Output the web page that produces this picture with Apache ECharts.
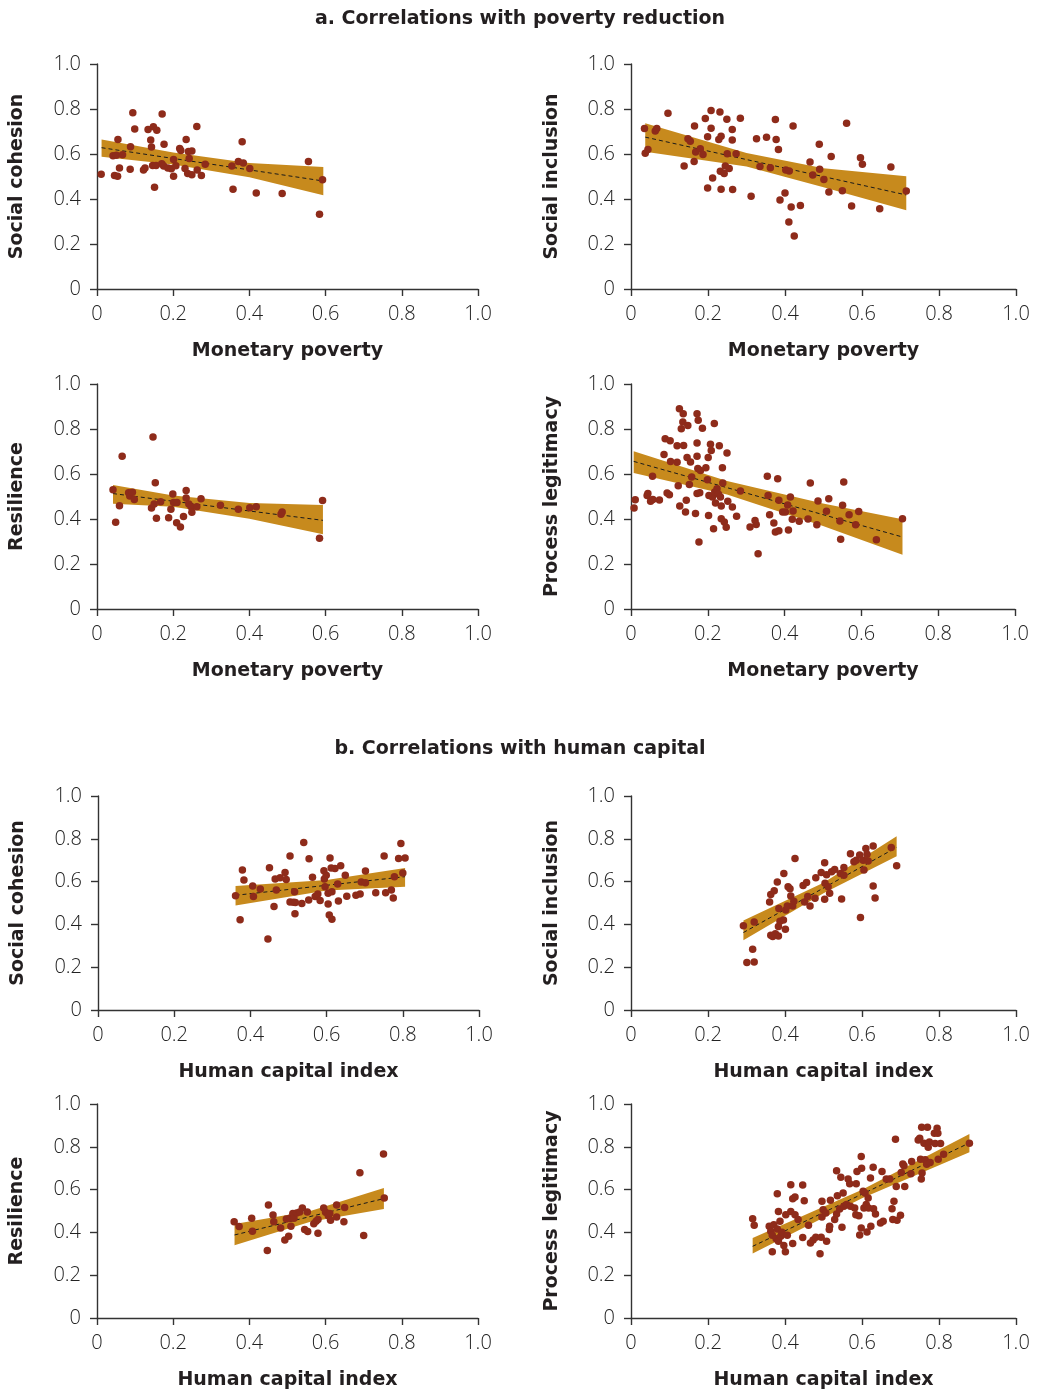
<!DOCTYPE html>
<html>
<head>
    <meta charset="utf-8">
    <title>Correlations</title>
    <script src="https://cdn.jsdelivr.net/npm/echarts@6/dist/echarts.min.js"></script>
    <style>
        body { margin: 0; background: #fff; }
    </style>
</head>
<body>
    <div id="main" style="width: 1040px;height:1391px;"></div>
    <script type="text/javascript">
        // 数据：每个面板的散点 [x, y]
        var povCohesion = [[0.011,0.51],[0.094,0.783],[0.099,0.711],[0.171,0.778],[0.134,0.709],[0.148,0.721],[0.157,0.706],[0.262,0.722],
            [0.055,0.665],[0.141,0.662],[0.176,0.643],[0.234,0.665],[0.381,0.654],[0.088,0.632],[0.143,0.631],[0.217,0.625],[0.22,0.616],
            [0.24,0.611],[0.249,0.613],[0.042,0.592],[0.051,0.595],[0.067,0.597],[0.242,0.58],[0.201,0.576],[0.284,0.555],[0.354,0.547],
            [0.371,0.567],[0.384,0.56],[0.401,0.536],[0.555,0.567],[0.059,0.538],[0.087,0.532],[0.122,0.529],[0.126,0.538],[0.146,0.549],
            [0.155,0.549],[0.17,0.557],[0.175,0.547],[0.186,0.538],[0.195,0.535],[0.207,0.548],[0.231,0.536],[0.238,0.513],[0.249,0.508],
            [0.263,0.529],[0.274,0.505],[0.201,0.501],[0.046,0.505],[0.054,0.501],[0.151,0.452],[0.357,0.443],[0.418,0.427],[0.486,0.424],
            [0.592,0.486],[0.584,0.332]];
        var povInclusion = [[0.035,0.713],[0.037,0.603],[0.044,0.62],[0.063,0.702],[0.067,0.713],[0.096,0.781],[0.138,0.547],[0.148,0.668],
            [0.154,0.657],[0.165,0.724],[0.164,0.567],[0.168,0.609],[0.18,0.623],[0.187,0.598],[0.193,0.758],[0.199,0.677],[0.199,0.449],
            [0.208,0.793],[0.208,0.715],[0.212,0.493],[0.231,0.787],[0.228,0.665],[0.234,0.679],[0.232,0.523],[0.234,0.443],[0.242,0.513],
            [0.245,0.547],[0.249,0.755],[0.25,0.601],[0.255,0.536],[0.263,0.709],[0.263,0.662],[0.264,0.442],[0.273,0.601],[0.284,0.759],
            [0.312,0.412],[0.326,0.668],[0.335,0.544],[0.352,0.675],[0.362,0.539],[0.375,0.753],[0.377,0.665],[0.383,0.62],[0.387,0.396],
            [0.4,0.427],[0.402,0.529],[0.411,0.524],[0.41,0.298],[0.416,0.365],[0.421,0.725],[0.424,0.236],[0.44,0.371],[0.465,0.564],
            [0.472,0.507],[0.489,0.643],[0.49,0.532],[0.501,0.487],[0.514,0.431],[0.52,0.589],[0.549,0.437],[0.56,0.737],[0.573,0.369],
            [0.596,0.583],[0.601,0.554],[0.646,0.357],[0.675,0.542],[0.715,0.436]];
        var povResilience = [[0.042,0.53],[0.049,0.386],[0.059,0.459],[0.066,0.679],[0.083,0.517],[0.086,0.502],[0.093,0.519],[0.098,0.487],
            [0.143,0.449],[0.147,0.765],[0.153,0.561],[0.15,0.467],[0.156,0.403],[0.167,0.477],[0.188,0.406],[0.194,0.443],[0.199,0.511],
            [0.201,0.473],[0.21,0.473],[0.209,0.383],[0.219,0.365],[0.227,0.411],[0.234,0.527],[0.234,0.493],[0.241,0.467],[0.247,0.455],
            [0.249,0.43],[0.262,0.455],[0.273,0.49],[0.324,0.461],[0.371,0.443],[0.401,0.45],[0.418,0.455],[0.483,0.421],[0.486,0.431],
            [0.584,0.315],[0.592,0.482]];
        var povLegitimacy = [[0.008,0.449],[0.011,0.486],[0.042,0.505],[0.044,0.513],[0.051,0.479],[0.057,0.487],[0.056,0.59],[0.074,0.484],
            [0.086,0.687],[0.089,0.757],[0.094,0.516],[0.1,0.508],[0.102,0.748],[0.103,0.656],[0.12,0.726],[0.12,0.652],[0.123,0.548],
            [0.126,0.89],[0.127,0.458],[0.131,0.801],[0.136,0.868],[0.135,0.831],[0.137,0.727],[0.142,0.431],[0.144,0.483],[0.146,0.673],
            [0.148,0.816],[0.152,0.553],[0.155,0.653],[0.158,0.587],[0.168,0.424],[0.172,0.868],[0.172,0.738],[0.172,0.679],[0.172,0.513],
            [0.175,0.839],[0.174,0.624],[0.177,0.298],[0.179,0.517],[0.181,0.616],[0.186,0.803],[0.195,0.628],[0.199,0.575],[0.201,0.673],
            [0.202,0.416],[0.203,0.505],[0.207,0.732],[0.209,0.705],[0.212,0.498],[0.215,0.357],[0.217,0.824],[0.218,0.52],[0.22,0.471],
            [0.224,0.535],[0.228,0.51],[0.23,0.726],[0.233,0.498],[0.235,0.458],[0.235,0.401],[0.238,0.628],[0.239,0.56],[0.243,0.387],
            [0.248,0.363],[0.25,0.693],[0.252,0.479],[0.264,0.453],[0.275,0.412],[0.285,0.524],[0.31,0.364],[0.323,0.393],[0.326,0.376],
            [0.331,0.246],[0.355,0.59],[0.357,0.504],[0.361,0.419],[0.372,0.382],[0.376,0.342],[0.382,0.579],[0.385,0.483],[0.385,0.348],
            [0.395,0.431],[0.402,0.431],[0.408,0.462],[0.41,0.351],[0.415,0.498],[0.42,0.399],[0.422,0.436],[0.438,0.39],[0.461,0.4],
            [0.467,0.56],[0.484,0.375],[0.487,0.48],[0.509,0.434],[0.515,0.49],[0.544,0.391],[0.546,0.31],[0.551,0.461],[0.554,0.564],
            [0.568,0.419],[0.585,0.375],[0.593,0.433],[0.639,0.308],[0.707,0.401]];
        var hcCohesion = [[0.361,0.534],[0.373,0.422],[0.379,0.654],[0.383,0.607],[0.406,0.579],[0.408,0.53],[0.426,0.565],[0.45,0.665],
            [0.446,0.332],[0.462,0.484],[0.465,0.612],[0.468,0.561],[0.478,0.618],[0.491,0.643],[0.494,0.61],[0.504,0.72],[0.504,0.505],
            [0.513,0.503],[0.516,0.553],[0.517,0.45],[0.518,0.502],[0.535,0.498],[0.54,0.783],[0.553,0.514],[0.554,0.707],[0.563,0.62],
            [0.57,0.53],[0.577,0.542],[0.583,0.512],[0.593,0.651],[0.596,0.576],[0.594,0.612],[0.599,0.63],[0.604,0.545],[0.604,0.495],
            [0.607,0.444],[0.609,0.71],[0.614,0.424],[0.614,0.553],[0.612,0.663],[0.622,0.661],[0.629,0.589],[0.631,0.509],[0.637,0.674],
            [0.649,0.63],[0.653,0.531],[0.677,0.536],[0.688,0.542],[0.691,0.598],[0.702,0.595],[0.702,0.649],[0.729,0.548],[0.751,0.72],
            [0.755,0.548],[0.77,0.561],[0.775,0.523],[0.778,0.623],[0.789,0.708],[0.795,0.778],[0.8,0.64],[0.806,0.71]];
        var hcInclusion = [[0.292,0.394],[0.301,0.222],[0.316,0.284],[0.32,0.224],[0.32,0.411],[0.36,0.505],[0.363,0.54],[0.363,0.349],
            [0.368,0.343],[0.372,0.557],[0.375,0.356],[0.38,0.598],[0.383,0.39],[0.384,0.474],[0.383,0.346],[0.387,0.415],[0.396,0.421],
            [0.397,0.638],[0.401,0.377],[0.402,0.467],[0.406,0.486],[0.408,0.576],[0.413,0.567],[0.415,0.533],[0.42,0.486],[0.423,0.508],
            [0.426,0.708],[0.447,0.582],[0.451,0.505],[0.456,0.596],[0.459,0.53],[0.465,0.486],[0.478,0.522],[0.48,0.618],[0.494,0.643],
            [0.503,0.688],[0.503,0.517],[0.504,0.592],[0.508,0.632],[0.512,0.576],[0.516,0.545],[0.521,0.646],[0.529,0.657],[0.547,0.519],
            [0.544,0.638],[0.553,0.63],[0.553,0.666],[0.57,0.73],[0.579,0.693],[0.585,0.7],[0.594,0.724],[0.596,0.432],[0.603,0.7],
            [0.605,0.654],[0.61,0.755],[0.613,0.728],[0.616,0.696],[0.629,0.766],[0.629,0.579],[0.634,0.523],[0.676,0.759],[0.69,0.674]];
        var hcResilience = [[0.36,0.45],[0.373,0.427],[0.406,0.466],[0.408,0.405],[0.447,0.315],[0.45,0.528],[0.462,0.481],[0.464,0.45],
            [0.482,0.421],[0.493,0.365],[0.497,0.463],[0.503,0.382],[0.506,0.466],[0.509,0.429],[0.514,0.488],[0.517,0.466],[0.524,0.491],
            [0.532,0.495],[0.539,0.514],[0.545,0.413],[0.552,0.495],[0.553,0.404],[0.569,0.441],[0.575,0.452],[0.58,0.46],[0.58,0.396],
            [0.595,0.514],[0.6,0.494],[0.607,0.478],[0.611,0.488],[0.613,0.457],[0.629,0.528],[0.629,0.472],[0.648,0.45],[0.65,0.516],
            [0.69,0.679],[0.7,0.385],[0.752,0.766],[0.754,0.561]];
        var hcLegitimacy = [[0.316,0.464],[0.32,0.433],[0.359,0.429],[0.363,0.405],[0.367,0.387],[0.367,0.309],[0.371,0.436],[0.377,0.37],
            [0.38,0.581],[0.38,0.416],[0.383,0.498],[0.383,0.359],[0.387,0.452],[0.389,0.382],[0.392,0.401],[0.397,0.339],[0.401,0.309],
            [0.402,0.483],[0.406,0.387],[0.415,0.623],[0.415,0.498],[0.42,0.348],[0.42,0.557],[0.426,0.565],[0.426,0.483],[0.434,0.46],
            [0.446,0.621],[0.45,0.548],[0.461,0.433],[0.446,0.376],[0.466,0.351],[0.473,0.365],[0.48,0.377],[0.491,0.3],[0.494,0.377],
            [0.496,0.545],[0.496,0.472],[0.499,0.506],[0.506,0.491],[0.508,0.359],[0.515,0.413],[0.516,0.429],[0.518,0.55],[0.529,0.46],
            [0.534,0.688],[0.534,0.486],[0.536,0.571],[0.542,0.509],[0.545,0.658],[0.548,0.424],[0.551,0.584],[0.553,0.522],[0.56,0.53],
            [0.564,0.649],[0.568,0.627],[0.57,0.522],[0.581,0.514],[0.584,0.483],[0.585,0.627],[0.587,0.685],[0.592,0.478],[0.594,0.388],
            [0.598,0.755],[0.598,0.421],[0.599,0.7],[0.603,0.592],[0.605,0.514],[0.608,0.584],[0.611,0.53],[0.613,0.402],[0.616,0.561],
            [0.617,0.514],[0.622,0.654],[0.623,0.429],[0.629,0.705],[0.63,0.511],[0.635,0.486],[0.648,0.444],[0.652,0.685],[0.655,0.452],
            [0.663,0.649],[0.672,0.649],[0.678,0.511],[0.683,0.545],[0.68,0.46],[0.687,0.835],[0.689,0.615],[0.691,0.457],[0.7,0.48],
            [0.702,0.68],[0.706,0.72],[0.709,0.711],[0.711,0.615],[0.727,0.674],[0.729,0.731],[0.746,0.832],[0.75,0.84],[0.752,0.742],
            [0.755,0.891],[0.754,0.649],[0.756,0.677],[0.761,0.817],[0.764,0.739],[0.768,0.719],[0.77,0.891],[0.772,0.798],[0.775,0.823],
            [0.777,0.727],[0.788,0.863],[0.79,0.815],[0.795,0.887],[0.797,0.863],[0.798,0.742],[0.804,0.815],[0.812,0.765],[0.879,0.817]];

        // 置信区间：x、下界、上界
        var bandX = [[0.012,0.2,0.4,0.594],[0.037,0.3,0.5,0.715],[0.042,0.2,0.4,0.593],[0.007,0.25,0.5,0.707],
            [0.361,0.6,0.806],[0.292,0.5,0.69],[0.361,0.56,0.753],[0.316,0.6,0.879]];
        var bandLow = [[0.588,0.553,0.497,0.417],[0.61,0.545,0.452,0.35],[0.468,0.454,0.401,0.332],[0.604,0.509,0.369,0.241],
            [0.488,0.558,0.576],[0.326,0.545,0.719],[0.34,0.45,0.509],[0.301,0.559,0.775]];
        var bandHigh = [[0.665,0.607,0.56,0.542],[0.737,0.605,0.537,0.501],[0.551,0.504,0.471,0.462],[0.701,0.569,0.469,0.399],
            [0.579,0.608,0.663],[0.418,0.595,0.812],[0.439,0.5,0.607],[0.374,0.599,0.86]];
        // 拟合线两端
        var fitLines = [[[0.012,0.628],[0.594,0.48]],[[0.037,0.675],[0.715,0.418]],[[0.042,0.513],[0.593,0.394]],[[0.007,0.656],[0.707,0.32]],
            [[0.361,0.536],[0.806,0.623]],[[0.292,0.362],[0.69,0.76]],[[0.361,0.388],[0.753,0.558]],[[0.316,0.335],[0.879,0.818]]];

        var panelData = [povCohesion, povInclusion, povResilience, povLegitimacy, hcCohesion, hcInclusion, hcResilience, hcLegitimacy];
        var yNames = ['Social cohesion','Social inclusion','Resilience','Process legitimacy','Social cohesion','Social inclusion','Resilience','Process legitimacy'];
        var xNames = ['Monetary poverty','Monetary poverty','Monetary poverty','Monetary poverty','Human capital index','Human capital index','Human capital index','Human capital index'];
        var titles = ['a. Correlations with poverty reduction', 'b. Correlations with human capital'];

        // 布局
        var grids = [
            {left: 97, top: 64, width: 381, height: 225},
            {left: 631, top: 64, width: 385, height: 225},
            {left: 97, top: 384, width: 381, height: 225},
            {left: 631, top: 384, width: 384, height: 225},
            {left: 98, top: 796, width: 381, height: 214},
            {left: 631, top: 796, width: 385, height: 214},
            {left: 97, top: 1104, width: 381, height: 214},
            {left: 631, top: 1104, width: 385, height: 214}
        ];

        var BOLD_FONT = '"DejaVu Sans", sans-serif';
        var TICK_FONT = '"Open Sans", sans-serif';
        var dotColor = '#8e2b1a';
        var bandColor = '#c78a1d';

        var xAxes = [], yAxes = [], series = [];
        for (var i = 0; i < 8; i++) {
            var axisCommon = {
                gridIndex: i,
                type: 'value',
                min: 0,
                max: 1,
                interval: 0.2,
                nameLocation: 'middle',
                nameTextStyle: {fontFamily: BOLD_FONT, fontWeight: 'bold', fontSize: 19, color: '#231f20'},
                axisLine: {show: true, lineStyle: {color: '#333', width: 1.4}},
                axisTick: {show: true, length: 7, lineStyle: {color: '#333', width: 1.4}},
                splitLine: {show: false},
                axisLabel: {
                    fontFamily: TICK_FONT, fontWeight: 300, fontSize: 20, color: '#222',
                    formatter: function (v) { return v === 0 ? '0' : v.toFixed(1); }
                }
            };
            xAxes.push(Object.assign({}, axisCommon, {
                name: xNames[i], nameGap: 53,
                axisLabel: Object.assign({}, axisCommon.axisLabel, {margin: 15})
            }));
            yAxes.push(Object.assign({}, axisCommon, {
                name: yNames[i], nameGap: (i % 2 === 0) ? 70 : 69,
                axisLabel: Object.assign({}, axisCommon.axisLabel, {margin: 16})
            }));

            (function (k) {
                series.push({
                    type: 'custom',
                    xAxisIndex: k, yAxisIndex: k,
                    silent: true,
                    z: 1,
                    data: bandX[k].map(function (x, j) { return [x, bandLow[k][j], bandHigh[k][j]]; }),
                    renderItem: function (params, api) {
                        if (params.dataIndex !== 0) return;
                        var pts = [];
                        for (var j = 0; j < bandX[k].length; j++) {
                            pts.push(api.coord([bandX[k][j], bandHigh[k][j]]));
                        }
                        for (var j2 = bandX[k].length - 1; j2 >= 0; j2--) {
                            pts.push(api.coord([bandX[k][j2], bandLow[k][j2]]));
                        }
                        return {type: 'polygon', shape: {points: pts}, style: {fill: bandColor}};
                    }
                });
            })(i);

            series.push({
                type: 'line',
                xAxisIndex: i, yAxisIndex: i,
                data: fitLines[i],
                symbol: 'none',
                silent: true,
                z: 2,
                lineStyle: {color: '#1a1a1a', width: 1, type: [4, 3]}
            });

            series.push({
                type: 'scatter',
                xAxisIndex: i, yAxisIndex: i,
                data: panelData[i],
                symbolSize: 7.5,
                z: 3,
                itemStyle: {color: dotColor, opacity: 1}
            });
        }

        var chart = echarts.init(document.getElementById('main'));
        var option = {
            backgroundColor: '#fff',
            animation: false,
            title: [
                {text: titles[0], left: 'center', top: 5, textStyle: {fontFamily: BOLD_FONT, fontWeight: 'bold', fontSize: 19, color: '#231f20'}},
                {text: titles[1], left: 'center', top: 735, textStyle: {fontFamily: BOLD_FONT, fontWeight: 'bold', fontSize: 19, color: '#231f20'}}
            ],
            grid: grids,
            xAxis: xAxes,
            yAxis: yAxes,
            series: series
        };
        chart.setOption(option);
    </script>
</body>
</html>
